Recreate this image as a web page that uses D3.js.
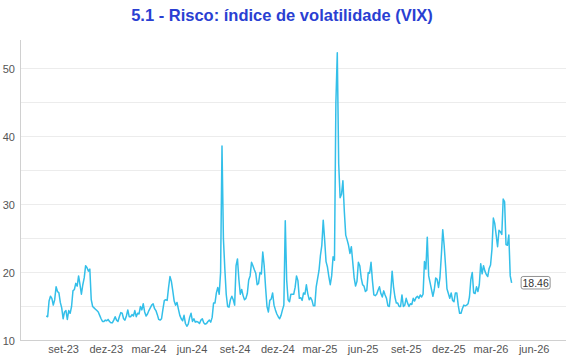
<!DOCTYPE html>
<html>
<head>
<meta charset="utf-8">
<script src="https://cdn.jsdelivr.net/npm/d3@7"></script>
<style>
  html, body { margin: 0; padding: 0; background: #fff; }
  svg { display: block; font-family: "Liberation Sans", Arial, sans-serif; }
</style>
</head>
<body>
<svg id="chart" width="570" height="360"></svg>
<script>
// ---- data ----
const titleText = "5.1 - Risco: índice de volatilidade (VIX)";
const seriesStart = "2023-07-27";   // first observation
const seriesStepDays = 3;           // observations read every 3 calendar days
const vixValues = [
  13.6,13.5,15.8,16.5,16.2,15.2,16.0,17.9,17.2,17.0,15.6,14.8,13.2,14.2,14.4,13.1,14.4,14.0,15.0,17.3,
  17.5,18.4,18.0,19.5,18.2,16.8,18.2,19.2,21.0,20.7,20.2,20.5,16.0,15.0,14.8,14.6,14.4,14.2,13.7,13.2,
  12.8,12.8,13.0,12.9,13.1,12.8,12.6,12.6,13.0,13.5,13.0,12.8,13.5,14.1,14.0,13.2,13.0,13.6,14.5,13.5,
  13.5,13.8,13.6,14.4,13.5,14.0,13.9,15.0,14.5,15.4,14.2,13.6,13.9,14.4,14.8,15.2,15.4,14.7,14.4,13.8,
  13.1,13.0,13.2,14.6,15.9,16.0,15.9,17.8,19.4,18.7,17.3,15.8,15.2,15.6,14.6,13.7,13.2,12.9,13.7,12.5,
  12.1,12.4,13.4,14.0,12.8,13.2,12.7,12.8,12.7,12.5,13.0,13.2,12.6,12.4,12.5,12.8,13.0,12.7,13.4,15.5,
  15.5,17.0,17.8,16.8,20.0,38.6,25.0,20.6,16.8,15.0,14.9,16.0,16.5,16.0,15.2,21.0,22.0,19.0,16.8,17.5,
  16.6,16.0,16.2,16.9,18.9,19.5,21.5,21.0,20.4,19.9,18.2,18.4,20.0,19.8,23.0,21.0,17.8,15.0,14.2,15.9,
  16.1,17.0,15.2,14.5,13.9,13.5,13.2,13.7,14.5,15.2,27.6,18.9,16.0,15.7,16.8,16.8,16.8,17.8,19.5,18.8,
  16.2,16.3,15.9,17.0,16.8,18.2,16.9,16.0,16.3,15.9,15.1,15.1,17.9,19.1,20.3,22.5,24.0,27.7,24.8,21.6,
  20.8,19.4,18.2,19.5,22.3,21.8,45.0,52.3,36.0,31.0,31.5,33.5,29.0,25.5,24.8,24.0,22.8,23.8,21.5,19.2,
  18.0,18.7,21.5,21.0,19.2,18.2,18.0,17.2,17.4,20.0,19.9,21.5,18.8,16.7,16.6,16.8,17.4,17.9,16.9,16.4,
  17.3,16.7,16.2,15.1,15.0,17.0,20.2,17.9,16.4,15.5,15.5,15.0,15.0,16.7,15.0,15.2,16.2,15.5,15.0,15.4,
  15.3,16.2,15.8,16.3,16.5,16.2,16.7,16.4,16.8,21.6,20.5,25.2,19.5,18.5,17.5,16.5,17.5,19.2,19.0,17.8,
  19.2,22.5,26.3,24.0,21.0,17.6,16.9,16.2,17.0,15.9,15.7,17.0,17.0,15.2,14.0,14.0,14.7,15.2,15.1,15.2,
  15.4,16.4,19.0,20.0,17.0,16.9,17.9,17.2,18.2,21.3,19.8,21.0,20.2,19.7,19.4,20.6,21.1,23.4,28.0,27.2,
  25.5,23.8,26.2,26.0,25.6,30.8,30.4,24.1,24.0,25.5,19.5,18.46
];
const xDomain = ["2023-06-01", "2026-08-09"];
const tickDates  = ["2023-09-01","2023-12-01","2024-03-01","2024-06-01","2024-09-01","2024-12-01",
                    "2025-03-01","2025-06-01","2025-09-01","2025-12-01","2026-03-01","2026-06-01"];
const tickLabels = ["set-23","dez-23","mar-24","jun-24","set-24","dez-24",
                    "mar-25","jun-25","set-25","dez-25","mar-26","jun-26"];
const yTicks = [10, 20, 30, 40, 50];
const yGrid  = [15, 20, 25, 30, 35, 40, 45, 50];
const yDomain = [10, 50];

// ---- build ----
(function () {
const parse = d3.utcParse("%Y-%m-%d");
const start = parse(seriesStart);
const data = vixValues.map((v, i) => ({ date: d3.utcDay.offset(start, i * seriesStepDays), value: v }));

const svg = d3.select("#chart");
const mLeft = 20, mRight = 566, mTop = 40, mBottom = 340.5;

const x = d3.scaleUtc().domain(xDomain.map(parse)).range([mLeft, mRight]);
const y = d3.scaleLinear().domain(yDomain).range([mBottom, 68.5]);

// title
svg.append("text")
  .attr("x", 282).attr("y", 21)
  .attr("text-anchor", "middle")
  .attr("font-size", "16.5px").attr("font-weight", "bold")
  .attr("fill", "#2a3fd2")
  .text(titleText);

// grid
svg.append("g").selectAll("line").data(yGrid).join("line")
  .attr("x1", mLeft).attr("x2", mRight)
  .attr("y1", d => y(d)).attr("y2", d => y(d))
  .attr("stroke", "#ececec").attr("stroke-width", 1);

// y axis
const yAxis = svg.append("g").attr("transform", `translate(${mLeft},0)`)
  .call(d3.axisLeft(y).tickValues(yTicks).tickSize(0).tickPadding(5));
yAxis.select(".domain").remove();
yAxis.selectAll("text").attr("font-size", "11px").attr("fill", "#555").attr("font-family", "Liberation Sans, Arial, sans-serif");
svg.append("line").attr("x1", mLeft + 0.5).attr("x2", mLeft + 0.5).attr("y1", mTop).attr("y2", mBottom)
  .attr("stroke", "#d0d0d0").attr("stroke-width", 1);

// x axis
const xAxis = svg.append("g").attr("transform", `translate(0,${mBottom})`)
  .call(d3.axisBottom(x).tickValues(tickDates.map(parse)).tickFormat((d, i) => tickLabels[i]).tickSize(0).tickPadding(5));
xAxis.select(".domain").remove();
xAxis.selectAll("text").attr("font-size", "11px").attr("fill", "#555").attr("font-family", "Liberation Sans, Arial, sans-serif");
svg.append("line").attr("x1", mLeft).attr("x2", mRight).attr("y1", mBottom).attr("y2", mBottom)
  .attr("stroke", "#d0d0d0").attr("stroke-width", 1);

// line
const line = d3.line().x(d => x(d.date)).y(d => y(d.value));
svg.append("path").datum(data)
  .attr("d", line)
  .attr("fill", "none")
  .attr("stroke", "#33bfe9")
  .attr("stroke-width", 1.5)
  .attr("stroke-linejoin", "round");

// last value label
const last = data[data.length - 1];
const lx = x(last.date) + 9.5, ly = y(last.value);
const lab = svg.append("g").attr("transform", `translate(${lx},${ly})`);
lab.append("rect").attr("x", 0).attr("y", -6.5).attr("width", 29).attr("height", 12.5)
  .attr("rx", 2).attr("fill", "#fff").attr("stroke", "#777").attr("stroke-width", 0.8);
lab.append("text").attr("x", 14.5).attr("y", 3.8).attr("text-anchor", "middle")
  .attr("font-size", "10.5px").attr("fill", "#333")
  .text(d3.format(".2f")(last.value));
})();
</script>
</body>
</html>
